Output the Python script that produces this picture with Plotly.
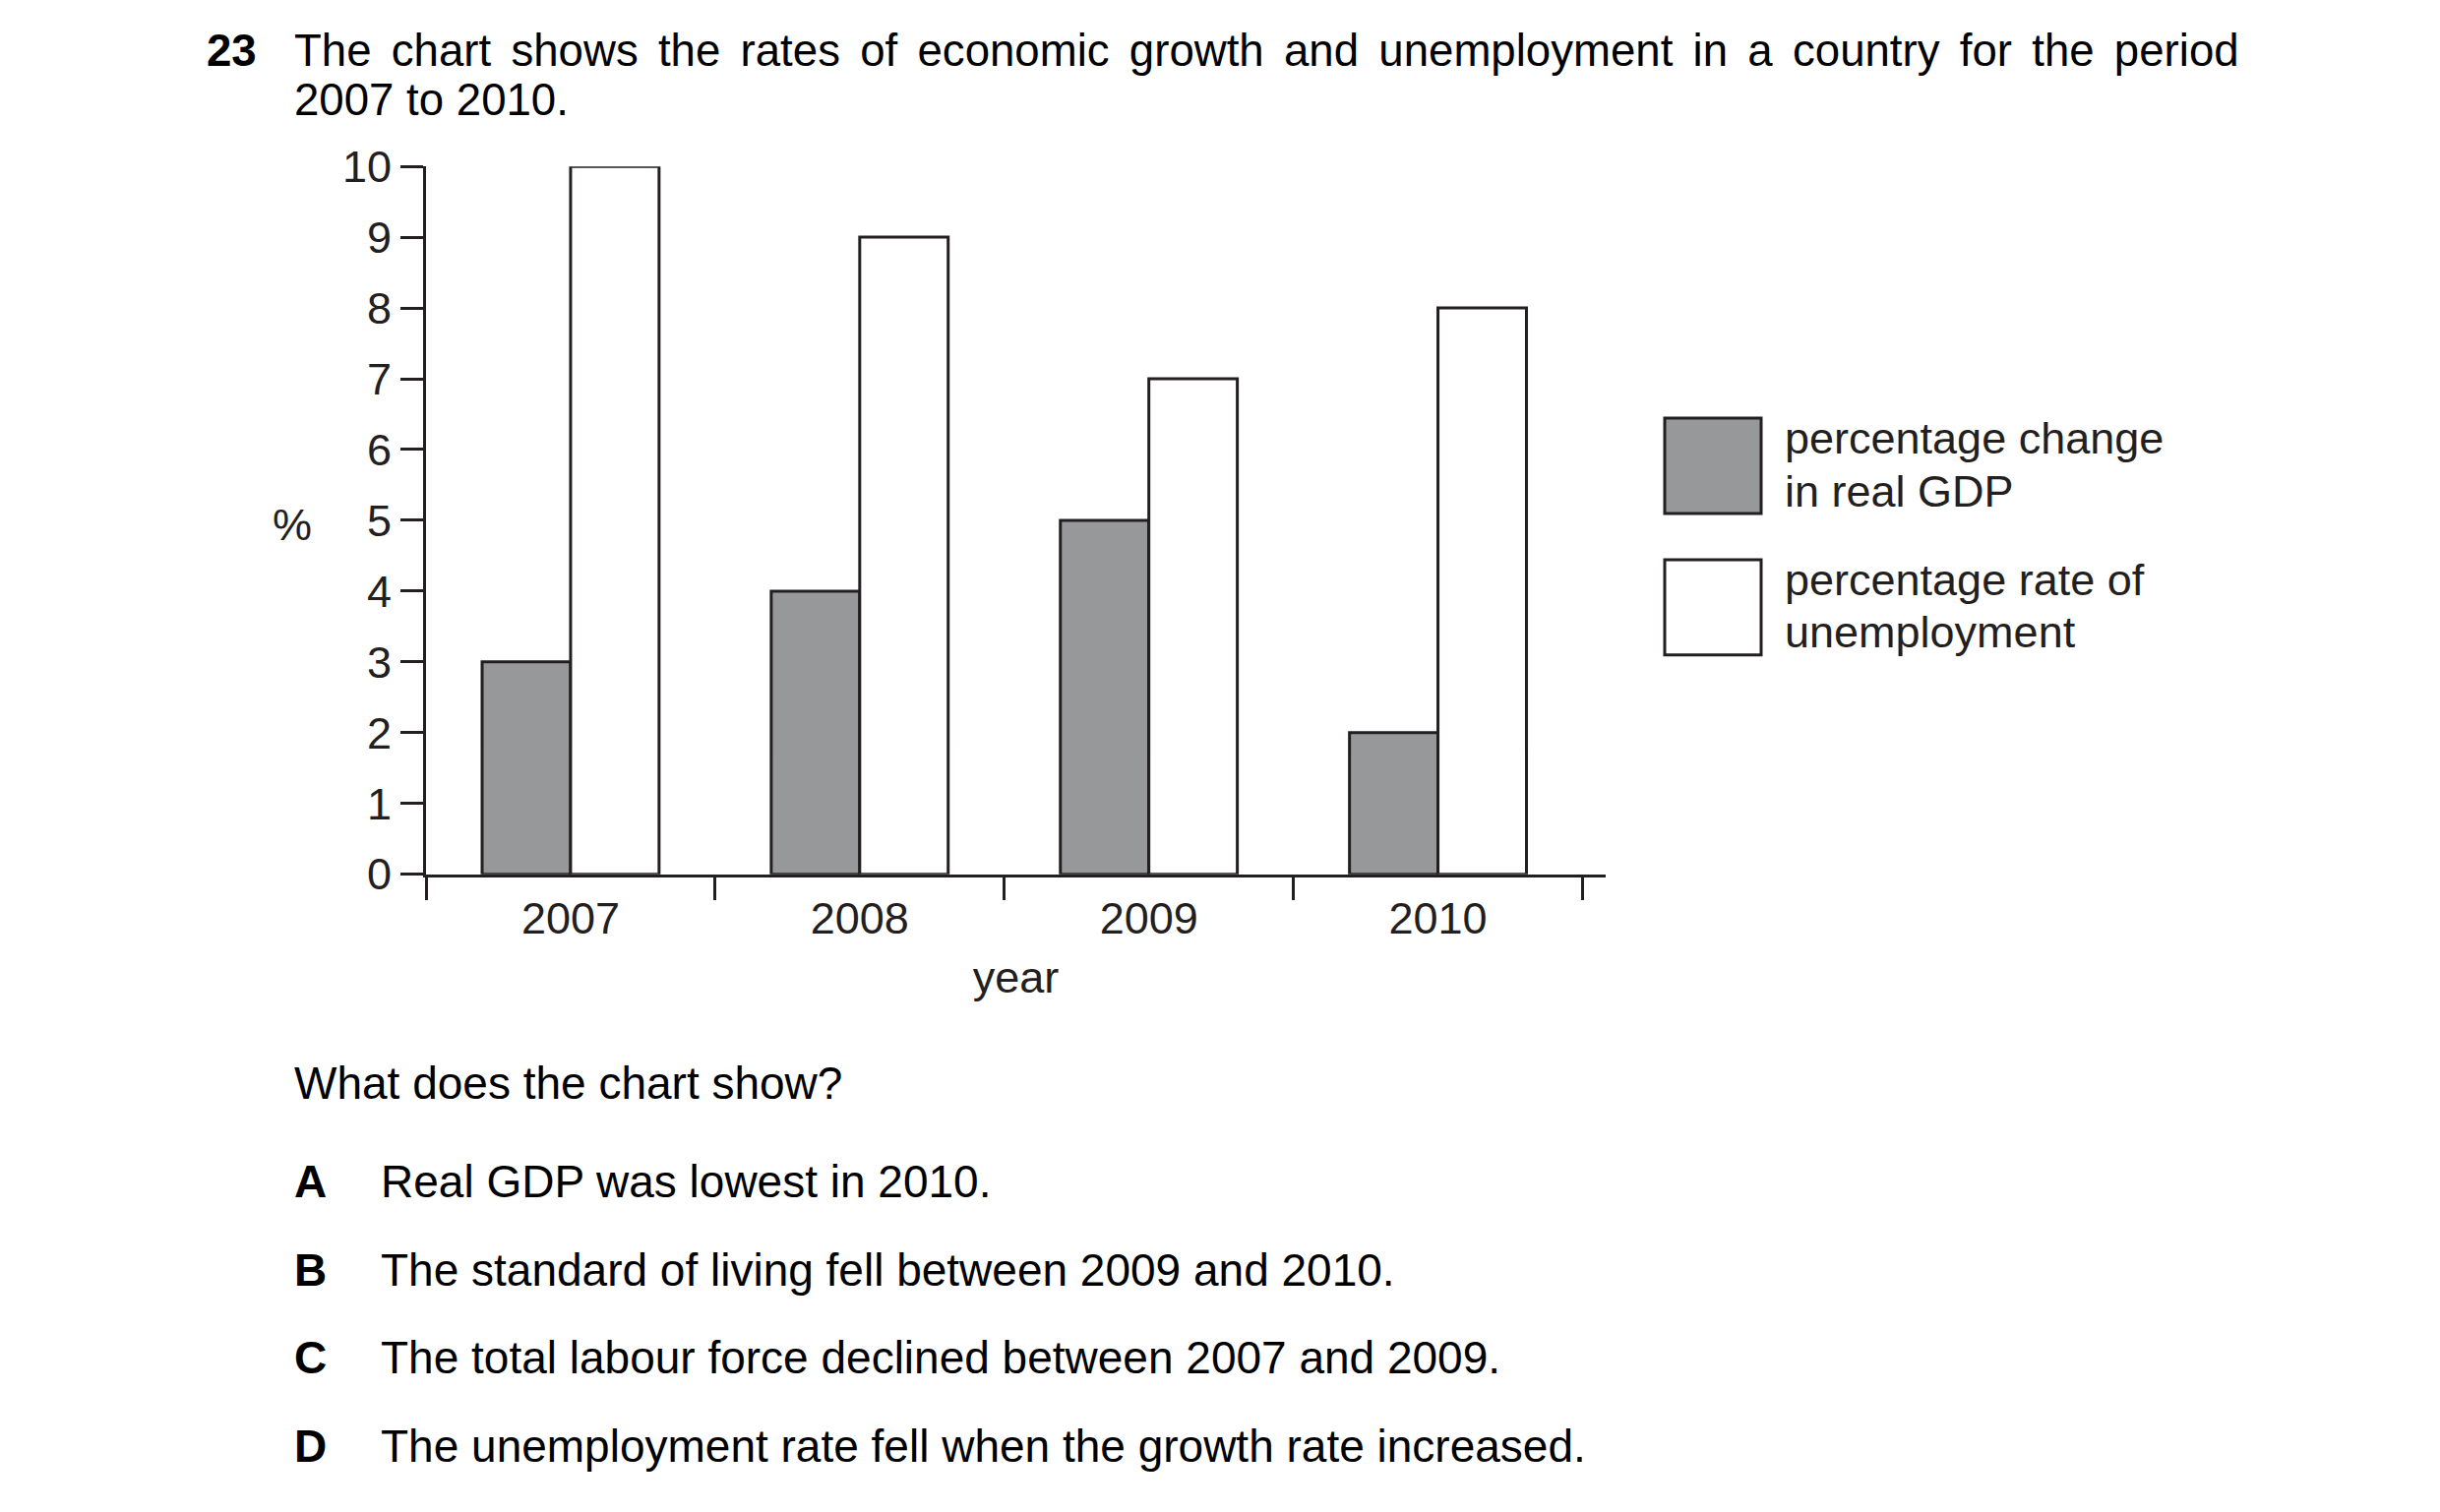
import plotly.graph_objects as go

# dados do gráfico
anos = ["2007", "2008", "2009", "2010"]
pib_real = [3, 4, 5, 2]          # percentage change in real GDP
desemprego = [10, 9, 7, 8]       # percentage rate of unemployment
marcas_y = list(range(0, 11))

# a página tem 8px de margem no body, por isso a figura fica 16px menor
W, H = 2480, 1537
MARGEM = 8
FW, FH = W - 2 * MARGEM, H - 2 * MARGEM
# correção vertical medida na captura (offset e escala)
OFF_Y, ESC_Y = 33.8, 0.967
cor_texto = "#231f20"
cor_cinza = "#97989a"
fonte = "Liberation Sans, Arial, sans-serif"


def px(x):
    return (x - MARGEM) / FW


def fy(y):
    # posição vertical desejada na imagem -> pixel da figura
    return (y - OFF_Y) / ESC_Y


def py(y):
    return 1 - fy(y) / FH


def pyf(f):
    return 1 - f / FH


fig = go.Figure()
fig.add_trace(go.Bar(
    x=anos, y=pib_real, name="percentage change in real GDP",
    marker=dict(color=cor_cinza, line=dict(color=cor_texto, width=3)),
))
fig.add_trace(go.Bar(
    x=anos, y=desemprego, name="percentage rate of unemployment",
    marker=dict(color="white", line=dict(color=cor_texto, width=3)),
))

fig.update_layout(
    width=FW, height=FH,
    margin=dict(l=0, r=0, t=0, b=0),
    paper_bgcolor="white", plot_bgcolor="white",
    barmode="group", bargap=0.388, bargroupgap=0,
    showlegend=False,
    font=dict(family=fonte, size=46, color=cor_texto),
    xaxis=dict(
        domain=[px(433), px(1632)],
        range=[-0.5, 3.58],
        type="category",
        tickson="boundaries",
        ticks="outside", ticklen=23, tickwidth=3, tickcolor=cor_texto,
        showline=True, linewidth=3, linecolor=cor_texto,
        showgrid=False, zeroline=False,
        tickfont=dict(size=45), ticklabelstandoff=3,
        title=dict(text="year", font=dict(size=45), standoff=20),
    ),
    yaxis=dict(
        domain=[py(890), py(170)],
        range=[0, 10],
        tickvals=marcas_y,
        ticks="outside", ticklen=23, tickwidth=3, tickcolor=cor_texto,
        showline=True, linewidth=3, linecolor=cor_texto,
        showgrid=False, zeroline=False,
        tickfont=dict(size=45),
    ),
)

# legenda desenhada à mão
fig.add_shape(type="rect", xref="paper", yref="paper",
              x0=px(1692), x1=px(1790), y0=py(426), y1=py(523),
              fillcolor=cor_cinza, line=dict(color=cor_texto, width=3))
fig.add_shape(type="rect", xref="paper", yref="paper",
              x0=px(1692), x1=px(1790), y0=py(570), y1=py(667),
              fillcolor="white", line=dict(color=cor_texto, width=3))


def texto(t, x, yp, size=46, color="black", xanchor="left"):
    fig.add_annotation(text=t, xref="paper", yref="paper",
                       x=px(x), y=yp, xanchor=xanchor, yanchor="middle",
                       showarrow=False, font=dict(size=size, color=color))


for linha, y in [("percentage change", 447), ("in real GDP", 501),
                 ("percentage rate of", 591), ("unemployment", 644)]:
    texto(linha, 1812, py(y), size=45, color=cor_texto)

texto("%", 297, py(535), size=45, color=cor_texto, xanchor="center")

# enunciado da questão (primeira linha justificada, colada ao topo)
linha1 = "The chart shows the rates of economic growth and unemployment in a country for the period"
f1 = 19
texto("<b>23</b>", 208, pyf(f1), size=45.6)
texto(" \u2006".join(linha1.split(" ")), 297, pyf(f1), size=45.6)
texto("2007 to 2010.", 297, pyf(f1 + 52), size=45.6)
texto("What does the chart show?", 297, py(1102))

opcoes = [("A", "Real GDP was lowest in 2010."),
          ("B", "The standard of living fell between 2009 and 2010."),
          ("C", "The total labour force declined between 2007 and 2009."),
          ("D", "The unemployment rate fell when the growth rate increased.")]
for i, (letra, frase) in enumerate(opcoes):
    y = 1202 + 90 * i
    texto("<b>" + letra + "</b>", 297, py(y))
    texto(frase, 385, py(y))

fig.write_html("out.html")
